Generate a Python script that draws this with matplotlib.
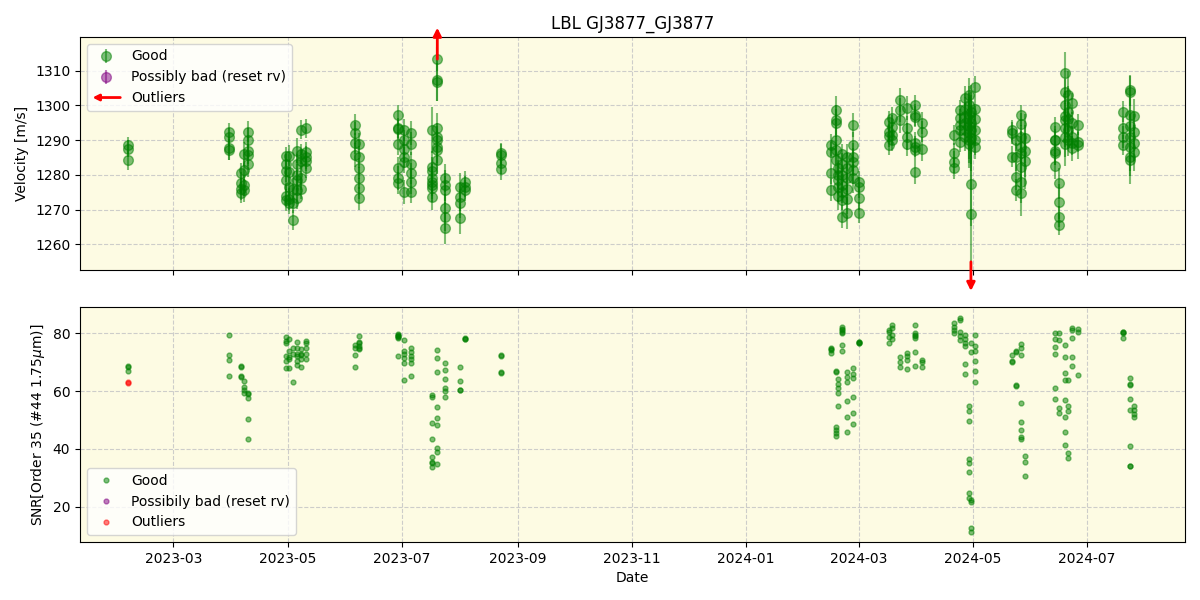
import numpy as np
import pandas as pd
import matplotlib
matplotlib.use("Agg")
import matplotlib.pyplot as plt
import matplotlib.dates as mdates
import matplotlib.patches as mpatches
import matplotlib.transforms as mtransforms
from matplotlib.legend_handler import HandlerBase

# ---------------- data ----------------
night_dates = [
    "2023-02-05", "2023-03-31", "2023-04-06", "2023-04-08", "2023-04-10",
    "2023-04-30", "2023-05-02", "2023-05-04", "2023-05-06", "2023-05-08", "2023-05-11",
    "2023-06-06", "2023-06-08",
    "2023-06-29", "2023-07-02", "2023-07-06",
    "2023-07-17", "2023-07-20", "2023-07-24",
    "2023-08-01", "2023-08-04", "2023-08-23",
    "2024-02-15", "2024-02-18", "2024-02-19", "2024-02-21", "2024-02-24", "2024-02-27", "2024-03-01",
    "2024-03-17", "2024-03-19", "2024-03-23", "2024-03-27", "2024-03-31", "2024-04-04",
    "2024-04-21", "2024-04-24", "2024-04-27", "2024-04-29", "2024-04-30", "2024-05-02",
    "2024-05-22", "2024-05-24", "2024-05-27", "2024-05-29",
    "2024-06-14", "2024-06-16", "2024-06-19", "2024-06-21", "2024-06-23", "2024-06-26",
    "2024-07-20", "2024-07-24", "2024-07-26",
]

rv_values = [
    [1288.5, 1287.5, 1284.2],
    [1292.2, 1291.0, 1287.6, 1287.3],
    [1280.5, 1277.7, 1276.0, 1274.8],
    [1286.0, 1281.4, 1277.0, 1275.5],
    [1292.4, 1290.0, 1287.0, 1285.7, 1283.0],
    [1285.3, 1283.0, 1281.0, 1278.5, 1274.0, 1272.8],
    [1285.5, 1280.9, 1276.6, 1273.0, 1271.8],
    [1276.0, 1272.0, 1267.0],
    [1287.0, 1283.0, 1280.0, 1278.5, 1275.5, 1273.3],
    [1293.0, 1286.0, 1284.0, 1279.0, 1276.0],
    [1293.4, 1286.5, 1285.0, 1284.0, 1282.0],
    [1294.4, 1292.0, 1289.1, 1285.7],
    [1289.0, 1285.2, 1281.9, 1279.0, 1276.1, 1273.2],
    [1297.2, 1293.1, 1293.5, 1289.0, 1282.0, 1279.0, 1277.7],
    [1292.9, 1290.0, 1287.5, 1285.0, 1283.8, 1275.0],
    [1292.0, 1289.0, 1283.0, 1280.4, 1278.0, 1275.2],
    [1292.9, 1282.4, 1279.0, 1276.1, 1273.7, 1278.0, 1281.0, 1277.0],
    [1313.3, 1307.2, 1306.8, 1293.4, 1290.0, 1287.2, 1284.3, 1288.0, 1291.0],
    [1279.0, 1277.0, 1275.6, 1270.4, 1268.0, 1264.6],
    [1276.6, 1273.7, 1271.8, 1267.5],
    [1278.0, 1276.6, 1275.6],
    [1286.2, 1285.8, 1283.5, 1281.6],
    [1288.6, 1286.5, 1280.4, 1275.6],
    [1298.7, 1295.8, 1294.9, 1290.0, 1287.2, 1284.3],
    [1282.0, 1280.0, 1278.5, 1276.6, 1274.0],
    [1286.0, 1283.0, 1280.0, 1277.0, 1275.0, 1272.8, 1268.0],
    [1285.0, 1282.0, 1279.0, 1276.0, 1273.0, 1269.0],
    [1294.4, 1288.6, 1285.2, 1283.8, 1281.4, 1279.0],
    [1278.0, 1276.4, 1273.2, 1269.1],
    [1295.3, 1292.4, 1291.2, 1288.6],
    [1296.4, 1293.9, 1291.5, 1290.0],
    [1301.6, 1298.7, 1295.8],
    [1299.2, 1293.4, 1291.0, 1289.0],
    [1300.1, 1297.2, 1296.7, 1289.1, 1288.1, 1287.2, 1280.9],
    [1294.9, 1292.4, 1287.4],
    [1291.5, 1286.2, 1283.8, 1281.9],
    [1298.7, 1296.3, 1294.4, 1292.9, 1289.6],
    [1302.0, 1299.0, 1297.0, 1295.0, 1293.0, 1291.0],
    [1303.0, 1300.0, 1297.5, 1296.0, 1294.0, 1292.0, 1290.0, 1289.0],
    [1298.0, 1295.0, 1293.0, 1290.5, 1277.3, 1268.6],
    [1305.4, 1299.0, 1296.0, 1293.0, 1290.0, 1288.0],
    [1292.9, 1292.1, 1285.2],
    [1290.0, 1285.2, 1279.5, 1275.6],
    [1297.2, 1294.6, 1291.0, 1288.0, 1286.2, 1282.4, 1278.0, 1274.7],
    [1290.5, 1287.0, 1284.0],
    [1293.7, 1290.0, 1286.2, 1282.6, 1290.0, 1287.0],
    [1277.6, 1272.3, 1268.0, 1265.6],
    [1309.2, 1304.0, 1300.1, 1297.0, 1295.8, 1293.4, 1291.0, 1289.0],
    [1303.0, 1298.0, 1296.0, 1293.0, 1290.0],
    [1300.6, 1295.0, 1291.0, 1289.1, 1287.6],
    [1294.5, 1289.5, 1288.5],
    [1298.2, 1293.4, 1291.0, 1288.6],
    [1304.4, 1304.0, 1297.2, 1294.0, 1291.0, 1288.0, 1285.0, 1284.3],
    [1296.9, 1292.4, 1289.1, 1286.7],
]

rv_errors = [
    [2.5, 2.5, 2.8],
    [2.8, 2.6, 3.2, 3.0],
    [2.8, 3.0, 3.2, 3.0],
    [3.5, 3.2, 3.0, 3.2],
    [3.0, 3.5, 3.8, 3.2, 3.5],
    [2.8, 3.0, 3.2, 2.8, 3.0, 3.2],
    [3.0, 3.0, 2.8, 3.2, 3.0],
    [3.2, 3.0, 3.0],
    [3.5, 3.0, 3.2, 3.0, 3.3, 3.0],
    [2.8, 3.0, 3.2, 3.5, 3.0],
    [2.8, 3.0, 3.2, 3.0, 3.0],
    [3.0, 3.2, 3.0, 3.5],
    [3.0, 3.2, 3.0, 3.2, 3.0, 3.3],
    [3.0, 2.8, 3.0, 3.2, 3.0, 3.5, 3.2],
    [3.2, 3.0, 3.5, 3.0, 3.2, 3.5],
    [3.5, 3.2, 3.5, 3.0, 3.5, 3.2],
    [6.5, 4.5, 4.0, 4.0, 3.8, 4.2, 4.0, 4.0],
    [3.5, 6.0, 5.5, 4.5, 4.0, 4.5, 4.0, 4.5, 4.0],
    [4.0, 4.5, 4.0, 4.0, 4.2, 4.5],
    [4.0, 4.0, 4.2, 4.5],
    [3.0, 3.0, 3.0],
    [3.0, 3.0, 3.2, 3.2],
    [3.2, 3.0, 3.0, 3.2],
    [4.0, 4.2, 4.0, 4.5, 4.0, 4.2],
    [4.0, 4.2, 4.0, 4.5, 4.2],
    [3.0, 3.2, 3.0, 3.2, 3.0, 3.0, 3.2],
    [4.0, 4.2, 4.0, 4.5, 4.2, 4.5],
    [3.5, 3.8, 4.0, 3.8, 4.0, 4.2],
    [3.0, 3.0, 3.2, 3.0],
    [3.0, 3.0, 3.2, 3.0],
    [3.0, 3.2, 3.0, 3.0],
    [3.5, 3.5, 3.8],
    [3.5, 3.5, 3.8, 3.5],
    [3.0, 3.2, 3.0, 3.2, 3.0, 3.0, 3.5],
    [3.2, 3.0, 3.5],
    [3.0, 3.0, 3.2, 3.0],
    [3.0, 2.8, 3.0, 3.2, 3.0],
    [3.5, 3.5, 3.8, 3.5, 4.0, 4.2],
    [5.0, 5.5, 6.0, 6.5, 7.0, 7.5, 6.5, 7.0],
    [8.0, 9.0, 10.0, 9.5, 12.0, 25.0],
    [3.0, 3.5, 3.8, 4.0, 4.2, 3.5],
    [3.0, 3.2, 3.0],
    [3.0, 4.0, 4.0, 3.2],
    [3.0, 3.2, 3.5, 4.5, 5.0, 5.5, 6.0, 6.5],
    [7.0, 7.5, 8.0],
    [3.0, 3.2, 3.5, 3.8, 4.0, 4.2],
    [4.5, 5.0, 3.0, 3.0],
    [6.3, 3.5, 4.0, 4.5, 5.0, 5.5, 6.0, 6.5],
    [7.0, 7.5, 5.0, 5.5, 4.5],
    [3.0, 3.0, 3.2, 3.5, 3.5],
    [3.0, 3.0, 3.8],
    [3.0, 3.0, 3.2, 3.0],
    [4.5, 4.5, 5.0, 5.5, 6.5, 7.0, 7.5, 4.5],
    [5.0, 5.0, 5.2, 5.5],
]

snr_values = [
    [68.7, 67.0, 68.4],
    [79.4, 72.5, 70.8, 65.2],
    [68.8, 65.2, 65.0, 68.5],
    [63.5, 61.3, 60.4, 59.4],
    [58.9, 57.5, 59.4, 50.2, 43.3],
    [78.8, 77.5, 76.8, 72.0, 70.5, 68.0],
    [78.0, 74.0, 71.8, 71.0, 68.0],
    [75.0, 73.0, 63.0],
    [77.0, 75.0, 73.0, 72.0, 70.5, 69.0],
    [74.6, 73.0, 72.5, 71.0, 68.5],
    [77.5, 76.5, 75.0, 73.0, 71.0],
    [76.0, 75.0, 72.5, 68.3],
    [79.0, 77.0, 76.5, 75.5, 75.0, 74.5],
    [79.8, 79.5, 79.2, 79.0, 78.8, 78.5, 72.0],
    [77.7, 74.0, 73.0, 71.5, 69.8, 63.8],
    [75.0, 73.5, 72.2, 71.0, 69.8, 65.2],
    [58.7, 58.1, 48.9, 43.4, 37.3, 35.6, 33.8, 35.0],
    [74.2, 71.4, 66.7, 54.5, 50.7, 48.3, 40.3, 39.0, 34.8],
    [69.7, 67.3, 64.2, 61.0, 60.0, 58.0],
    [68.3, 63.4, 60.3, 60.5],
    [78.3, 78.0, 78.2],
    [72.6, 72.2, 66.7, 66.3],
    [75.0, 74.2, 73.1, 74.6],
    [47.7, 46.5, 45.4, 44.5, 67.1, 66.5],
    [64.2, 62.5, 61.0, 59.3, 54.7],
    [82.3, 81.5, 81.0, 80.5, 80.0, 76.0, 74.0],
    [66.7, 65.0, 63.3, 56.6, 51.2, 45.7],
    [68.0, 66.0, 64.5, 57.8, 52.3, 48.5],
    [77.1, 76.8, 77.0, 76.5],
    [81.2, 80.5, 78.8, 76.5],
    [82.9, 82.0, 79.5, 78.0],
    [71.9, 70.0, 68.2],
    [73.2, 72.0, 70.8, 67.6],
    [82.9, 80.0, 79.5, 79.0, 78.3, 73.6, 68.7],
    [70.8, 70.0, 68.4],
    [83.5, 82.3, 81.0, 80.0],
    [85.3, 84.6, 80.5, 79.0, 77.7],
    [79.4, 78.0, 76.5, 75.6, 69.4, 66.0],
    [54.8, 53.0, 49.7, 36.4, 35.0, 31.9, 24.6, 23.0],
    [22.5, 21.7, 76.6, 73.6, 12.5, 11.3],
    [79.4, 75.6, 70.4, 67.0, 63.3, 74.0],
    [72.5, 70.0, 70.3],
    [73.9, 61.8, 62.0, 73.5],
    [76.2, 75.0, 72.5, 55.8, 49.2, 46.5, 44.0, 43.3],
    [37.5, 35.4, 30.6],
    [80.0, 78.0, 75.4, 72.7, 61.0, 57.2],
    [54.0, 52.3, 80.0, 77.7],
    [76.0, 71.9, 66.2, 63.8, 57.0, 51.0, 45.7, 41.4],
    [38.5, 36.8, 55.0, 53.0, 64.0],
    [82.0, 81.0, 78.3, 71.9, 68.7],
    [81.5, 80.6, 65.6],
    [80.6, 80.0, 78.3, 80.3],
    [64.4, 62.1, 57.2, 53.5, 41.0, 34.2, 34.0, 62.5],
    [55.0, 53.5, 52.0, 51.2],
]

# outliers
outlier_snr_dates = ["2023-02-05", "2023-02-05"]
outlier_snr_values = [63.0, 62.8]
outlier_arrow_dates = ["2023-07-20", "2024-04-30"]
outlier_arrow_dirs = ["up", "down"]

# ---------------- expand ----------------
dates, rv, rv_err, snr = [], [], [], []
for d, vs, es, ss in zip(night_dates, rv_values, rv_errors, snr_values):
    for v, e, s in zip(vs, es, ss):
        dates.append(pd.Timestamp(d))
        rv.append(v)
        rv_err.append(e)
        snr.append(s)
dates = pd.to_datetime(dates)

# ---------------- plot ----------------
fig = plt.figure(figsize=(12, 6), dpi=100)
ax1 = fig.add_axes([80 / 1200, 1 - 270 / 600, 1105 / 1200, 233 / 600])
ax2 = fig.add_axes([80 / 1200, 1 - 542 / 600, 1105 / 1200, 235 / 600], sharex=ax1)

bg = "#fdfbe3"
for ax in (ax1, ax2):
    ax.set_facecolor(bg)
    ax.grid(True, linestyle="--", color="#c8c8c8", linewidth=0.8, alpha=0.9)
    ax.set_axisbelow(True)

good = ax1.errorbar(dates, rv, yerr=rv_err, fmt="o", color="green", alpha=0.5,
                    markersize=7, elinewidth=1.5, label="Good")
bad = ax1.errorbar([], [], yerr=[], fmt="o", color="purple", alpha=0.5,
                   markersize=7, elinewidth=1.5, label="Possibly bad (reset rv)")

blend = mtransforms.blended_transform_factory(ax1.transData, ax1.transAxes)
for d, direction in zip(outlier_arrow_dates, outlier_arrow_dirs):
    x = mdates.date2num(pd.Timestamp(d))
    if direction == "up":
        y0, y1 = 0.905, 1.04
    else:
        y0, y1 = 0.035, -0.09
    ax1.annotate("", xy=(x, y1), xytext=(x, y0), xycoords=blend, textcoords=blend,
                 arrowprops=dict(arrowstyle="-|>", color="red", lw=2, mutation_scale=12,
                                 shrinkA=0, shrinkB=0),
                 annotation_clip=False)


class HandlerArrow(HandlerBase):
    def create_artists(self, legend, orig_handle, xdescent, ydescent, width, height,
                       fontsize, trans):
        y = height / 2 - ydescent
        arr = mpatches.FancyArrowPatch((width - xdescent, y), (-xdescent, y),
                                       arrowstyle="-|>", mutation_scale=9, color="red",
                                       lw=2, shrinkA=0, shrinkB=0, transform=trans)
        return [arr]


arrow_proxy = mpatches.FancyArrowPatch((0, 0), (1, 0))
ax1.legend([good, bad, arrow_proxy], ["Good", "Possibly bad (reset rv)", "Outliers"],
           handler_map={mpatches.FancyArrowPatch: HandlerArrow()}, loc="upper left")

ax1.set_ylim(1252.6, 1319.7)
ax1.set_yticks([1260, 1270, 1280, 1290, 1300, 1310])
ax1.set_ylabel("Velocity [m/s]")
ax1.set_title("LBL GJ3877_GJ3877")
plt.setp(ax1.get_xticklabels(), visible=False)

ax2.plot(dates, snr, "o", color="green", alpha=0.5, markersize=3.5, label="Good")
ax2.plot([], [], "o", color="purple", alpha=0.5, markersize=3.5, label="Possibily bad (reset rv)")
ax2.plot(pd.to_datetime(outlier_snr_dates), outlier_snr_values, "o", color="red",
         alpha=0.5, markersize=3.5, label="Outliers")
ax2.legend(loc="lower left")
ax2.set_ylim(7.8, 89.1)
ax2.set_yticks([20, 40, 60, 80])
ax2.set_ylabel(r"SNR[Order 35 (#44 1.75$\mu$m)]")
ax2.set_xlabel("Date")

ax2.xaxis.set_major_locator(mdates.MonthLocator(bymonth=[1, 3, 5, 7, 9, 11]))
ax2.xaxis.set_major_formatter(mdates.DateFormatter("%Y-%m"))
ax2.set_xlim(pd.Timestamp("2023-01-10 04:00"), pd.Timestamp("2024-08-22 08:00"))

fig.savefig("out.png", dpi=100)
